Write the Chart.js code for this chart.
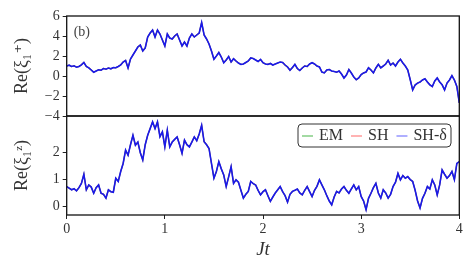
<!DOCTYPE html>
<html>
<head>
<meta charset="utf-8">
<script src="https://cdn.jsdelivr.net/npm/chart.js@4.4.1/dist/chart.umd.min.js"></script>
<style>
  html, body { margin: 0; padding: 0; background: #fff; }
  #wrap { position: relative; width: 474px; height: 271px; overflow: hidden; }
  canvas { position: absolute; left: 0; }
  #topChart { top: 0; }
  #bottomChart { top: 115px; }
</style>
</head>
<body>
<div id="wrap">
  <canvas id="bottomChart" width="474" height="156"></canvas>
  <canvas id="topChart" width="474" height="130"></canvas>
</div>
<script>
const dt = 0.025;
const seriesNames = ['EM', 'SH', 'SH-δ'];
const xTicks = [0, 1, 2, 3, 4];
const topTicks = [-4, -2, 0, 2, 4, 6];
const bottomTicks = [0, 1, 2];

// Re(xi_1^+)
const rePlus = [
  1.0, 1.08, 0.95, 1.02, 0.88, 0.96, 1.12, 1.35,
  0.95, 0.82, 0.6, 0.38, 0.5, 0.62, 0.58, 0.75,
  0.68, 0.8, 0.72, 0.85, 0.82, 0.95, 1.1, 1.4,
  1.55, 0.8, 1.7, 2.1, 2.5, 2.9, 3.1, 2.5,
  2.8, 3.9, 4.3, 4.6, 3.9, 4.6, 4.2, 3.6,
  3.0, 4.2, 3.8, 3.7, 4.0, 4.2, 3.6, 3.0,
  3.4, 3.0, 3.8, 4.2, 3.9, 4.1, 4.3, 5.35,
  4.1, 3.7, 3.2, 2.5, 1.67, 2.0, 2.35, 1.9,
  1.33, 1.6, 1.95, 1.4, 1.73, 1.5, 1.3, 1.16,
  1.2, 1.35, 1.5, 1.8, 1.75, 1.6, 1.45, 1.65,
  1.33, 1.2, 1.16, 1.25, 1.1, 1.2, 1.3, 1.4,
  1.35, 1.1, 0.9, 0.58, 0.85, 1.16, 0.75, 0.55,
  0.8, 1.0, 0.95, 1.2, 1.33, 1.2, 1.0, 0.9,
  0.4, 0.31, 0.6, 0.65, 0.5, 0.45, 0.38, 0.5,
  0.2, -0.2, 0.1, 0.65, 0.3, -0.1, -0.37, -0.2,
  0.14, 0.31, 0.4, 0.82, 0.6, 0.31, 0.8, 1.16,
  0.82, 1.0, 1.2, 1.57, 1.1, 1.3, 1.0, 1.4,
  1.67, 1.3, 1.0, 0.6, -0.37, -1.39, -0.9, -0.71,
  -0.6, -0.4, -0.27, -0.6, -0.88, -1.05, -0.5, -0.2,
  -0.6, -0.88, -1.39, -0.71, -0.4, 0.03, -0.4, -1.05,
  -2.7
];

// Re(xi_1^z)
const reZ = [
  0.74, 0.68, 0.62, 0.66, 0.58, 0.7, 0.86, 1.2,
  0.62, 0.8, 0.72, 0.49, 0.7, 0.8, 0.49, 0.45,
  0.31, 0.62, 0.55, 0.53, 1.05, 0.93, 1.3, 1.6,
  2.1, 1.91, 2.3, 2.65, 2.28, 2.4, 2.0, 1.73,
  2.3, 2.65, 2.9, 3.15, 2.9, 3.15, 2.6, 2.78,
  2.22, 2.84, 2.22, 2.4, 2.5, 2.59, 2.3, 1.98,
  2.47, 2.3, 2.22, 2.4, 2.59, 2.45, 2.7, 3.02,
  2.41, 2.3, 2.16, 1.6, 1.05, 1.3, 1.67, 1.4,
  1.17, 0.74, 1.1, 1.48, 0.86, 0.99, 0.9, 0.6,
  0.31, 0.45, 0.56, 0.93, 0.85, 0.8, 0.6, 0.43,
  0.55, 0.62, 0.4, 0.19, 0.35, 0.5, 0.62, 0.74,
  0.55, 0.4, 0.16, 0.45, 0.56, 0.6, 0.65, 0.5,
  0.43, 0.6, 0.74, 0.55, 0.37, 0.6, 0.75, 0.99,
  0.8, 0.62, 0.4, 0.2, 0.06, 0.35, 0.56, 0.5,
  0.65, 0.74, 0.6, 0.49, 0.65, 0.8, 0.62, 0.74,
  0.37, 0.2, -0.12, 0.3, 0.49, 0.7, 0.86, 0.5,
  0.31, 0.62, 0.5, 0.31, 0.45, 0.74, 0.9, 1.23,
  0.99, 1.15, 1.05, 1.11, 1.0, 0.93, 0.6, 0.2,
  -0.06, 0.3, 0.49, 0.74, 0.65, 0.99, 0.8, 0.43,
  0.8, 1.36, 1.2, 1.05, 1.15, 1.3, 1.0, 1.6,
  1.67
];

const colors = ['rgba(0,170,0,0.6)', 'rgba(255,0,0,0.5)', 'rgb(25,25,235)'];
const legendColors = ['#66c266', '#ff8080', '#7a7aff'];
const serif = "'Liberation Serif', 'DejaVu Serif', serif";
const ink = '#333';

function points(vals) {
  return vals.map((v, i) => ({ x: i * dt, y: v }));
}

function makeDatasets(vals) {
  return seriesNames.map((name, k) => ({
    label: name,
    data: points(vals),
    borderColor: colors[k],
    borderWidth: k === 2 ? 1.6 : 1.2,
    order: 2 - k,          // SH-δ drawn on top
    pointRadius: 0,
    tension: 0
  }));
}

const minus = v => String(v).replace('-', '\u2212');

// frame round each panel + extra text
const frame = {
  id: 'frame',
  afterDraw(chart, args, opts) {
    const a = chart.chartArea, ctx = chart.ctx;
    ctx.save();
    ctx.strokeStyle = '#111';
    ctx.lineWidth = 1.3;
    ctx.strokeRect(a.left, a.top, a.right - a.left, a.bottom - a.top);
    if (opts.tag) {
      ctx.fillStyle = '#444';
      ctx.font = '14px ' + serif;
      ctx.textBaseline = 'middle';
      ctx.fillText(opts.tag, a.left + 7, a.top + 16);
    }
    if (opts.legend) {
      const bx = 298, by = 9, bw = 153, bh = 23;
      ctx.fillStyle = '#fff';
      ctx.strokeStyle = '#333';
      ctx.lineWidth = 1;
      ctx.beginPath();
      ctx.roundRect(bx, by, bw, bh, 4);
      ctx.fill();
      ctx.stroke();
      ctx.font = '16px ' + serif;
      ctx.textBaseline = 'middle';
      let x = bx + 4;
      const y = by + bh / 2 + 0.5;
      chart.data.datasets.forEach((ds, k) => {
        ctx.strokeStyle = legendColors[k];
        ctx.lineWidth = 1.2;
        ctx.beginPath();
        ctx.moveTo(x, y);
        ctx.lineTo(x + 11, y);
        ctx.stroke();
        ctx.fillStyle = ink;
        ctx.fillText(ds.label, x + 17, y);
        x += 17 + ctx.measureText(ds.label).width + 8;
      });
    }
    ctx.restore();
  }
};

function yScale(min, max, ticks, title) {
  return {
    type: 'linear',
    min: min,
    max: max,
    afterFit(s) { s.width = 66.7; s.paddingTop = 0; s.paddingBottom = 0; },
    afterBuildTicks(s) { s.ticks = ticks.map(v => ({ value: v })); },
    grid: { drawOnChartArea: false, drawTicks: true, tickLength: 4, color: '#222' },
    border: { display: false },
    ticks: { color: ink, font: { family: serif, size: 14 }, padding: 3, autoSkip: false, callback: minus },
    title: { display: true, text: title, color: ink, font: { family: serif, size: 18 }, padding: { top: 11, bottom: 0 } }
  };
}

new Chart(document.getElementById('topChart'), {
  type: 'line',
  data: { datasets: makeDatasets(rePlus) },
  options: {
    responsive: false,
    animation: false,
    devicePixelRatio: 1,
    layout: { padding: { top: 16, right: 14.7, left: 0, bottom: 14 } },
    plugins: { legend: { display: false }, tooltip: { enabled: false }, frame: { tag: '(b)' } },
    scales: {
      x: { type: 'linear', min: 0, max: 4, display: false },
      y: yScale(-4, 6, topTicks, 'Re(ξ\u2081\u207A)')
    }
  },
  plugins: [frame]
});

new Chart(document.getElementById('bottomChart'), {
  type: 'line',
  data: { datasets: makeDatasets(reZ) },
  options: {
    responsive: false,
    animation: false,
    devicePixelRatio: 1,
    layout: { padding: { top: 1, right: 14.7, left: 0, bottom: 0 } },
    plugins: { legend: { display: false }, tooltip: { enabled: false }, frame: { legend: true } },
    scales: {
      x: {
        type: 'linear',
        min: 0,
        max: 4,
        afterFit(s) { s.height = 56; s.paddingLeft = 0; s.paddingRight = 0; },
        afterBuildTicks(s) { s.ticks = xTicks.map(v => ({ value: v })); },
        grid: { drawOnChartArea: false, drawTicks: true, tickLength: 4, color: '#222' },
        border: { display: false },
        ticks: { color: ink, font: { family: serif, size: 14 }, padding: 2, maxRotation: 0, autoSkip: false },
        title: { display: true, text: 'Jt', color: ink, font: { family: serif, size: 19, style: 'italic' }, padding: { top: 0, bottom: 10 } }
      },
      y: yScale(-0.32, 3.37, bottomTicks, 'Re(ξ\u2081\u1DBB)')
    }
  },
  plugins: [frame]
});
</script>
</body>
</html>
